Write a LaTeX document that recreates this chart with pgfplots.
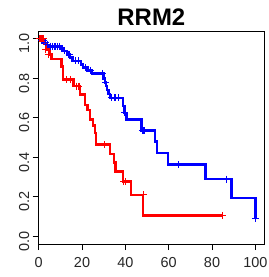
\documentclass[border=0pt]{standalone}
\usepackage{pgfplots}
\pgfplotsset{compat=1.18}
\usepackage{fontspec}
\setmainfont{Liberation Sans}
\begin{document}
\begin{tikzpicture}
\useasboundingbox (-38.7bp,-33bp) rectangle (230.3bp,244bp);
\begin{axis}[
  at={(0,0)}, anchor=south west,
  scale only axis, width=225.3bp, height=213bp,
  xmin=0, xmax=104, ymin=-0.04, ymax=1.04,
  xtick={0,20,40,60,80,100},
  ytick={0,0.2,0.4,0.6,0.8,1.0},
  yticklabel style={rotate=90, anchor=south, xshift=-5bp, /pgf/number format/fixed, /pgf/number format/fixed zerofill, /pgf/number format/precision=1},
  /pgf/number format/assume math mode=true,
  tick pos=left, tick align=outside,
  major tick length=6bp,
  tick label style={font=\fontsize{14.5}{16}\selectfont, text=black!85},
  xticklabel style={yshift=-4bp},
  axis line style={black, line width=0.8pt},
  every tick/.style={black, line width=0.8pt},
  title={\bfseries RRM2},
  title style={font=\fontsize{24}{26}\selectfont, yshift=-4bp},
  clip=false,
]
\addplot[blue, line width=2.5bp, const plot, mark=none] coordinates {
(0,1.0)(1,0.99)(2.5,0.98)(3.5,0.97)(5,0.962)(10.5,0.95)(11.5,0.939)(13,0.92)(14.5,0.905)(15.5,0.888)(19.5,0.87)(20.5,0.854)(22.5,0.84)(24.5,0.825)(29.8,0.80)(30.5,0.78)(31,0.76)(31.5,0.74)(32.3,0.72)(33,0.701)(39,0.66)(39.5,0.625)(40.5,0.591)(47.5,0.535)(53.7,0.48)(54.7,0.421)(59.6,0.362)(77,0.289)(89.1,0.194)(100,0.09)
};
\addplot[blue, only marks, mark=+, mark size=3.5bp, line width=1.2bp] coordinates {
(0.5,1)(1.5,0.99)(2,0.99)(3,0.98)(4,0.97)(5.5,0.962)(6.5,0.962)(7.5,0.962)(8.5,0.962)(9.5,0.962)(12,0.939)(14,0.92)(17,0.888)(18.5,0.888)(21.5,0.854)(24,0.84)(29.5,0.825)(30.8,0.78)(33.6,0.701)(35.2,0.701)(37,0.701)(39.8,0.625)(47.9,0.535)(48.6,0.535)(64.7,0.362)(86.8,0.289)(100,0.09)
};
\addplot[red, line width=2.5bp, const plot, mark=none] coordinates {
(0,1.0)(2.5,0.975)(3.7,0.947)(5.2,0.922)(5.8,0.897)(10.6,0.86)(11.3,0.795)(16.0,0.76)(19.0,0.718)(21.3,0.665)(22.5,0.64)(23.6,0.591)(25,0.56)(26,0.523)(26.5,0.465)(32.9,0.416)(34.8,0.373)(35.5,0.328)(39,0.277)(42.6,0.209)(48.1,0.105)(85,0.105)
};
\addplot[red, only marks, mark=+, mark size=3.5bp, line width=1.2bp] coordinates {
(0.5,1.0)(1,1.0)(1.5,1.0)(2,1.0)(3.2,0.947)(4.5,0.922)(12.9,0.795)(14.7,0.795)(17.5,0.76)(18.6,0.76)(30.2,0.465)(39.3,0.277)(40,0.277)(48.5,0.209)(85,0.105)
};
\end{axis}
\end{tikzpicture}
\end{document}
